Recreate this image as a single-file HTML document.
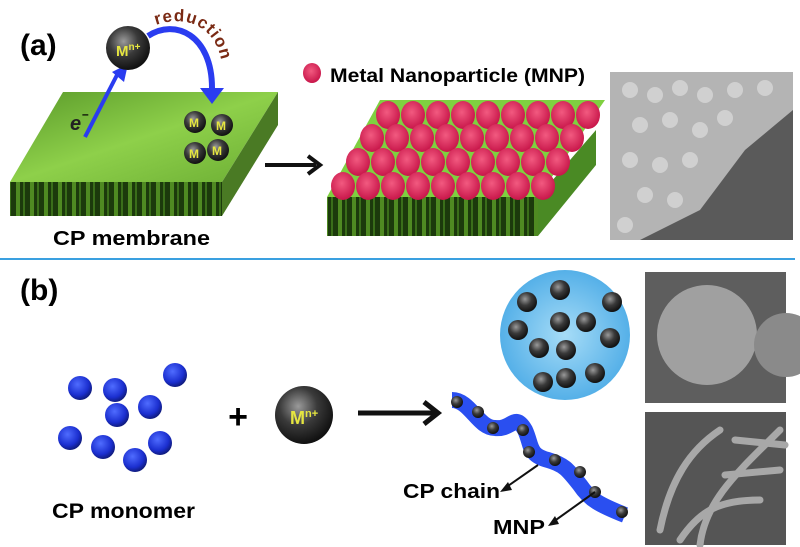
<!DOCTYPE html>
<html><head><style>html,body{margin:0;padding:0;background:#fff}svg{display:block}text{font-family:"Liberation Sans",sans-serif;font-weight:bold}</style></head>
<body>
<svg width="800" height="547" viewBox="0 0 800 547" xmlns="http://www.w3.org/2000/svg">
<defs>
<radialGradient id="ball" cx="40%" cy="35%" r="65%"><stop offset="0" stop-color="#9a9a9a"/><stop offset="0.5" stop-color="#3a3a3a"/><stop offset="1" stop-color="#111"/></radialGradient>
<radialGradient id="blue" cx="40%" cy="35%" r="65%"><stop offset="0" stop-color="#4f6cff"/><stop offset="0.7" stop-color="#1b2fd0"/><stop offset="1" stop-color="#101c80"/></radialGradient>
<radialGradient id="red" cx="45%" cy="40%" r="60%"><stop offset="0" stop-color="#f25a80"/><stop offset="1" stop-color="#c8164a"/></radialGradient>
<radialGradient id="bigc" cx="50%" cy="50%" r="50%"><stop offset="0" stop-color="#a6dcf7"/><stop offset="1" stop-color="#55b0e8"/></radialGradient>
<linearGradient id="top" x1="0" y1="0" x2="1" y2="1"><stop offset="0" stop-color="#5a9a2a"/><stop offset="0.5" stop-color="#8ed04a"/><stop offset="1" stop-color="#6cae34"/></linearGradient>
<pattern id="stripes" width="14" height="40" patternUnits="userSpaceOnUse"><rect width="14" height="40" fill="#1c3a0c"/><rect x="2" width="4" height="40" fill="#4f8a22"/><rect x="9" width="2" height="40" fill="#3a6e1a"/></pattern>
</defs>

<!-- (a) -->
<text x="20" y="55" font-size="30">(a)</text>
<polygon points="10,182 63,92 278,92 222,182" fill="url(#top)"/>
<polygon points="222,182 278,92 278,125 222,216" fill="#4a7a24"/>
<rect x="10" y="182" width="212" height="34" fill="url(#stripes)"/>
<line x1="85" y1="137" x2="117" y2="75" stroke="#2a3cf0" stroke-width="4"/>
<polygon points="112,72 128,64 124,82" fill="#2a3cf0"/>
<text x="70" y="130" font-size="20" font-style="italic" font-weight="normal" fill="#222">e</text><text x="82" y="118" font-size="12" font-weight="normal">–</text>
<path d="M148,36 C175,18 212,35 212,88" fill="none" stroke="#2a3cf0" stroke-width="6"/>
<polygon points="200,88 224,88 212,104" fill="#2a3cf0"/>
<path id="rarc" d="M156,25 C192,12 228,32 222,88" fill="none"/>
<text font-size="17" fill="#7a2a14" letter-spacing="1"><textPath href="#rarc">reduction</textPath></text>
<circle cx="128" cy="48" r="22" fill="url(#ball)"/>
<text x="116" y="56" font-size="15" fill="#e6e640">M<tspan font-size="10" dy="-6">n+</tspan></text>
<g font-size="12" fill="#e6e640">
<circle cx="195" cy="122" r="11" fill="url(#ball)"/><text x="189" y="127">M</text>
<circle cx="222" cy="125" r="11" fill="url(#ball)"/><text x="216" y="130">M</text>
<circle cx="195" cy="153" r="11" fill="url(#ball)"/><text x="189" y="158">M</text>
<circle cx="218" cy="150" r="11" fill="url(#ball)"/><text x="212" y="155">M</text>
</g>
<text x="53" y="245" font-size="20" textLength="157" lengthAdjust="spacingAndGlyphs">CP membrane</text>
<line x1="265" y1="165" x2="316" y2="165" stroke="#111" stroke-width="4"/>
<polyline points="308,156 320,165 308,174" fill="none" stroke="#111" stroke-width="4"/>

<polygon points="327,197 380,100 605,100 538,197" fill="#7fd040"/>
<polygon points="538,197 596,130 596,165 538,236" fill="#4a8a24"/>
<rect x="327" y="197" width="211" height="39" fill="url(#stripes)"/>
<g fill="url(#red)">
<ellipse cx="388" cy="115" rx="12" ry="14"/><ellipse cx="413" cy="115" rx="12" ry="14"/><ellipse cx="438" cy="115" rx="12" ry="14"/><ellipse cx="463" cy="115" rx="12" ry="14"/><ellipse cx="488" cy="115" rx="12" ry="14"/><ellipse cx="513" cy="115" rx="12" ry="14"/><ellipse cx="538" cy="115" rx="12" ry="14"/><ellipse cx="563" cy="115" rx="12" ry="14"/><ellipse cx="588" cy="115" rx="12" ry="14"/>
<ellipse cx="372" cy="138" rx="12" ry="14"/><ellipse cx="397" cy="138" rx="12" ry="14"/><ellipse cx="422" cy="138" rx="12" ry="14"/><ellipse cx="447" cy="138" rx="12" ry="14"/><ellipse cx="472" cy="138" rx="12" ry="14"/><ellipse cx="497" cy="138" rx="12" ry="14"/><ellipse cx="522" cy="138" rx="12" ry="14"/><ellipse cx="547" cy="138" rx="12" ry="14"/><ellipse cx="572" cy="138" rx="12" ry="14"/>
<ellipse cx="358" cy="162" rx="12" ry="14"/><ellipse cx="383" cy="162" rx="12" ry="14"/><ellipse cx="408" cy="162" rx="12" ry="14"/><ellipse cx="433" cy="162" rx="12" ry="14"/><ellipse cx="458" cy="162" rx="12" ry="14"/><ellipse cx="483" cy="162" rx="12" ry="14"/><ellipse cx="508" cy="162" rx="12" ry="14"/><ellipse cx="533" cy="162" rx="12" ry="14"/><ellipse cx="558" cy="162" rx="12" ry="14"/>
<ellipse cx="343" cy="186" rx="12" ry="14"/><ellipse cx="368" cy="186" rx="12" ry="14"/><ellipse cx="393" cy="186" rx="12" ry="14"/><ellipse cx="418" cy="186" rx="12" ry="14"/><ellipse cx="443" cy="186" rx="12" ry="14"/><ellipse cx="468" cy="186" rx="12" ry="14"/><ellipse cx="493" cy="186" rx="12" ry="14"/><ellipse cx="518" cy="186" rx="12" ry="14"/><ellipse cx="543" cy="186" rx="12" ry="14"/>
</g>
<ellipse cx="312" cy="73" rx="9" ry="10" fill="url(#red)"/>
<text x="330" y="82" font-size="19" textLength="255" lengthAdjust="spacingAndGlyphs">Metal Nanoparticle (MNP)</text>
<rect x="610" y="72" width="183" height="168" fill="#b4b4b4"/>
<polygon points="793,110 793,240 640,240 700,210 745,150" fill="#5a5a5a"/>
<g fill="#d0d0d0">
<circle cx="630" cy="90" r="8"/><circle cx="655" cy="95" r="8"/><circle cx="680" cy="88" r="8"/><circle cx="705" cy="95" r="8"/><circle cx="735" cy="90" r="8"/><circle cx="765" cy="88" r="8"/><circle cx="640" cy="125" r="8"/><circle cx="670" cy="120" r="8"/><circle cx="700" cy="130" r="8"/><circle cx="725" cy="118" r="8"/><circle cx="630" cy="160" r="8"/><circle cx="660" cy="165" r="8"/><circle cx="690" cy="160" r="8"/><circle cx="645" cy="195" r="8"/><circle cx="675" cy="200" r="8"/><circle cx="625" cy="225" r="8"/>
</g>

<line x1="0" y1="259" x2="795" y2="259" stroke="#3aa0e0" stroke-width="2"/>

<!-- (b) -->
<text x="20" y="300" font-size="30">(b)</text>
<g fill="url(#blue)">
<circle cx="80" cy="388" r="12"/><circle cx="115" cy="390" r="12"/><circle cx="175" cy="375" r="12"/><circle cx="117" cy="415" r="12"/><circle cx="150" cy="407" r="12"/><circle cx="70" cy="438" r="12"/><circle cx="103" cy="447" r="12"/><circle cx="135" cy="460" r="12"/><circle cx="160" cy="443" r="12"/>
</g>
<text x="52" y="518" font-size="21" textLength="143" lengthAdjust="spacingAndGlyphs">CP monomer</text>
<text x="238" y="428" font-size="34" font-weight="normal" text-anchor="middle">+</text>
<circle cx="304" cy="415" r="29" fill="url(#ball)"/>
<text x="290" y="424" font-size="18" fill="#e6e640">M<tspan font-size="11" dy="-7">n+</tspan></text>
<line x1="358" y1="413" x2="435" y2="413" stroke="#111" stroke-width="5"/>
<polyline points="424,402 438,413 424,424" fill="none" stroke="#111" stroke-width="5"/>

<circle cx="565" cy="335" r="65" fill="url(#bigc)"/>
<g fill="url(#ball)">
<circle cx="560" cy="290" r="10"/><circle cx="527" cy="302" r="10"/><circle cx="612" cy="302" r="10"/><circle cx="560" cy="322" r="10"/><circle cx="586" cy="322" r="10"/><circle cx="518" cy="330" r="10"/><circle cx="610" cy="338" r="10"/><circle cx="539" cy="348" r="10"/><circle cx="566" cy="350" r="10"/><circle cx="595" cy="373" r="10"/><circle cx="543" cy="382" r="10"/><circle cx="566" cy="378" r="10"/>
</g>
<path d="M452,400 C470,400 478,428 495,428 C512,430 515,412 525,430 C532,445 528,455 548,460 C565,465 568,470 580,485 C590,500 600,505 625,515" fill="none" stroke="#2a4ff0" stroke-width="16"/>
<g fill="url(#ball)">
<circle cx="457" cy="402" r="6"/><circle cx="478" cy="412" r="6"/><circle cx="493" cy="428" r="6"/><circle cx="523" cy="430" r="6"/><circle cx="529" cy="452" r="6"/><circle cx="555" cy="460" r="6"/><circle cx="580" cy="472" r="6"/><circle cx="595" cy="492" r="6"/><circle cx="622" cy="512" r="6"/>
</g>
<line x1="538" y1="465" x2="505" y2="488" stroke="#111" stroke-width="2"/>
<polygon points="500,492 508,482 512,490" fill="#111"/>
<text x="403" y="498" font-size="20" textLength="97" lengthAdjust="spacingAndGlyphs">CP chain</text>
<line x1="595" y1="492" x2="553" y2="522" stroke="#111" stroke-width="2"/>
<polygon points="548,526 555,516 559,524" fill="#111"/>
<text x="493" y="534" font-size="20" textLength="52" lengthAdjust="spacingAndGlyphs">MNP</text>
<rect x="645" y="272" width="141" height="131" fill="#5e5e5e"/>
<circle cx="707" cy="335" r="50" fill="#a0a0a0"/>
<circle cx="786" cy="345" r="32" fill="#8a8a8a"/>
<rect x="645" y="412" width="141" height="133" fill="#555"/>
<g stroke="#a8a8a8" stroke-width="7" fill="none" stroke-linecap="round">
<path d="M660,530 C670,480 690,450 720,430"/><path d="M700,545 C705,500 740,470 780,430"/><path d="M735,440 L785,445"/><path d="M725,475 L780,470"/><path d="M680,540 C700,510 720,500 760,500"/>
</g>
</svg>
</body></html>
